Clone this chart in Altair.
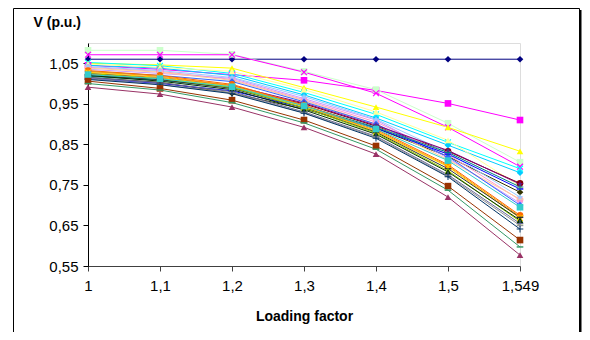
import altair as alt
import pandas as pd

factors = ["1", "1,1", "1,2", "1,3", "1,4", "1,5", "1,549"]

names = [f"Bus {i}" for i in range(1, 32)]
colors = [
    "#000080", "#FF00FF", "#CCFFCC", "#FF00FF", "#FFFF00", "#00FFFF", "#00CCFF",
    "#FFFF99", "#800000", "#333300", "#FF99CC", "#CC99FF", "#FFCC99", "#99CCFF",
    "#3366FF", "#0000FF", "#800080", "#008080", "#FF6600", "#FF9900", "#FFCC00",
    "#333333", "#99CC00", "#003300", "#666699", "#969696", "#003366", "#33CCCC",
    "#993300", "#339966", "#993366",
]
markers = [
    "diamond", "square", "square", "x", "triangle", "x", "diamond",
    "triangle", "circle", "diamond", "circle", "star", "dash", "star",
    "diamond", "dash", "star", "plus", "circle", "star", "x",
    "dash", "triangle", "triangle", "plus", "dash", "plus", "square",
    "square", "dash", "triangle",
]
values = [
    [1.060, 1.060, 1.060, 1.060, 1.060, 1.060, 1.060],
    [1.045, 1.035, 1.022, 1.008, 0.983, 0.951, 0.910],
    [1.082, 1.082, 1.072, 1.030, 0.985, 0.902, 0.806],
    [1.071, 1.071, 1.071, 1.028, 0.976, 0.892, 0.795],
    [1.050, 1.046, 1.038, 0.990, 0.942, 0.892, 0.833],
    [1.052, 1.044, 1.025, 0.978, 0.924, 0.855, 0.790],
    [1.045, 1.038, 1.020, 0.972, 0.915, 0.848, 0.780],
    [1.048, 1.040, 1.030, 0.985, 0.930, 0.860, 0.747],
    [1.020, 1.010, 0.990, 0.950, 0.895, 0.833, 0.754],
    [1.015, 1.003, 0.976, 0.937, 0.890, 0.820, 0.732],
    [1.040, 1.030, 1.010, 0.960, 0.905, 0.825, 0.713],
    [1.035, 1.025, 1.013, 0.963, 0.910, 0.816, 0.705],
    [1.038, 1.028, 1.008, 0.958, 0.900, 0.812, 0.715],
    [1.042, 1.032, 1.015, 0.968, 0.912, 0.830, 0.720],
    [1.030, 1.020, 1.005, 0.955, 0.900, 0.820, 0.700],
    [1.012, 1.000, 0.982, 0.940, 0.890, 0.826, 0.740],
    [1.025, 1.015, 0.995, 0.952, 0.897, 0.835, 0.752],
    [1.018, 1.008, 0.990, 0.945, 0.892, 0.830, 0.745],
    [1.032, 1.020, 0.998, 0.947, 0.887, 0.800, 0.675],
    [1.030, 1.018, 0.995, 0.945, 0.884, 0.797, 0.672],
    [1.028, 1.015, 0.993, 0.943, 0.882, 0.795, 0.668],
    [1.022, 1.010, 0.988, 0.940, 0.880, 0.790, 0.670],
    [1.025, 1.012, 0.990, 0.940, 0.878, 0.785, 0.660],
    [1.020, 1.006, 0.985, 0.935, 0.875, 0.782, 0.663],
    [1.015, 1.002, 0.980, 0.930, 0.870, 0.775, 0.655],
    [1.012, 0.998, 0.977, 0.928, 0.868, 0.772, 0.650],
    [1.010, 0.997, 0.975, 0.927, 0.865, 0.770, 0.641],
    [1.022, 1.012, 0.992, 0.945, 0.888, 0.810, 0.695],
    [1.006, 0.988, 0.959, 0.910, 0.846, 0.747, 0.614],
    [1.000, 0.984, 0.953, 0.903, 0.838, 0.737, 0.597],
    [0.991, 0.974, 0.942, 0.892, 0.826, 0.720, 0.577],
]
y_ticks = [0.55, 0.65, 0.75, 0.85, 0.95, 1.05]

shape_paths = {
    "diamond": "diamond",
    "square": "square",
    "triangle": "triangle-up",
    "circle": "circle",
    "x": "M-1,-0.75L-0.75,-1L0,-0.25L0.75,-1L1,-0.75L0.25,0L1,0.75L0.75,1L0,0.25L-0.75,1L-1,0.75L-0.25,0Z",
    "star": "M0,-1L0.25,-0.3L1,-0.3L0.4,0.15L0.6,0.9L0,0.45L-0.6,0.9L-0.4,0.15L-1,-0.3L-0.25,-0.3Z",
    "plus": "M-0.15,-1H0.15V-0.15H1V0.15H0.15V1H-0.15V0.15H-1V-0.15H-0.15Z",
    "dash": "M-1,-0.22H1V0.22H-1Z",
}

rows = []
for n, vals in zip(names, values):
    for f, v in zip(factors, vals):
        rows.append({"series": n, "lf": f, "v": v})
df = pd.DataFrame(rows)

W, H = 432, 223
FONT = "Liberation Sans"

x_enc = alt.X(
    "lf:O", sort=factors, scale=alt.Scale(type="point", padding=0),
    axis=alt.Axis(
        title="Loading factor", labelAngle=0, labelFontSize=15, labelPadding=7,
        tickSize=5, titleFontSize=14, titleFontWeight="bold", titleY=50,
        titleBaseline="middle", domainColor="#404040", tickColor="#404040",
        labelColor="black", titleColor="black",
    ),
)
y_enc = alt.Y(
    "v:Q", scale=alt.Scale(domain=[0.55, 1.10], nice=False, zero=False),
    axis=alt.Axis(
        values=y_ticks, labelExpr="replace(format(datum.value, '.2f'), '.', ',')",
        labelFontSize=15, labelPadding=5, tickSize=5, title="V (p.u.)",
        titleAngle=0, titleAlign="left", titleX=-55, titleY=-21,
        titleBaseline="middle", titleFontSize=14, titleFontWeight="bold",
        domainColor="black", tickColor="black", labelColor="black", titleColor="black",
    ),
)
color_enc = alt.Color("series:N", scale=alt.Scale(domain=names, range=colors), legend=None)
shape_enc = alt.Shape(
    "series:N",
    scale=alt.Scale(domain=names, range=[shape_paths[m] for m in markers]),
    legend=None,
)

base = alt.Chart(df)
lines = base.mark_line(strokeWidth=1).encode(x=x_enc, y=y_enc, color=color_enc, detail="series:N")
points = base.mark_point(filled=True, size=44, opacity=1).encode(
    x=x_enc, y=y_enc, color=color_enc, shape=shape_enc
)

frame_df = pd.DataFrame({"a": [0]})
frame = alt.Chart(frame_df).mark_rect(filled=False, stroke="black", strokeWidth=1).encode(
    x=alt.value(-74.5), x2=alt.value(491.5), y=alt.value(-34.5), y2=alt.value(400)
)
shadow = alt.Chart(frame_df).mark_rule(stroke="black", strokeWidth=2).encode(
    x=alt.value(492.5), y=alt.value(-33), y2=alt.value(400)
)

chart = (
    alt.layer(frame, shadow, lines, points)
    .properties(
        width=W, height=H,
        autosize=alt.AutoSizeParams(type="none"),
        padding={"left": 80, "top": 35, "right": 62, "bottom": 66},
        background="white",
    )
    .configure_view(stroke="#a0a0a0", strokeWidth=1)
    .configure(font=FONT)
    .configure_axis(grid=False, labelFont=FONT, titleFont=FONT)
)

chart.save("out.html", embed_options={"renderer": "svg", "actions": False})
